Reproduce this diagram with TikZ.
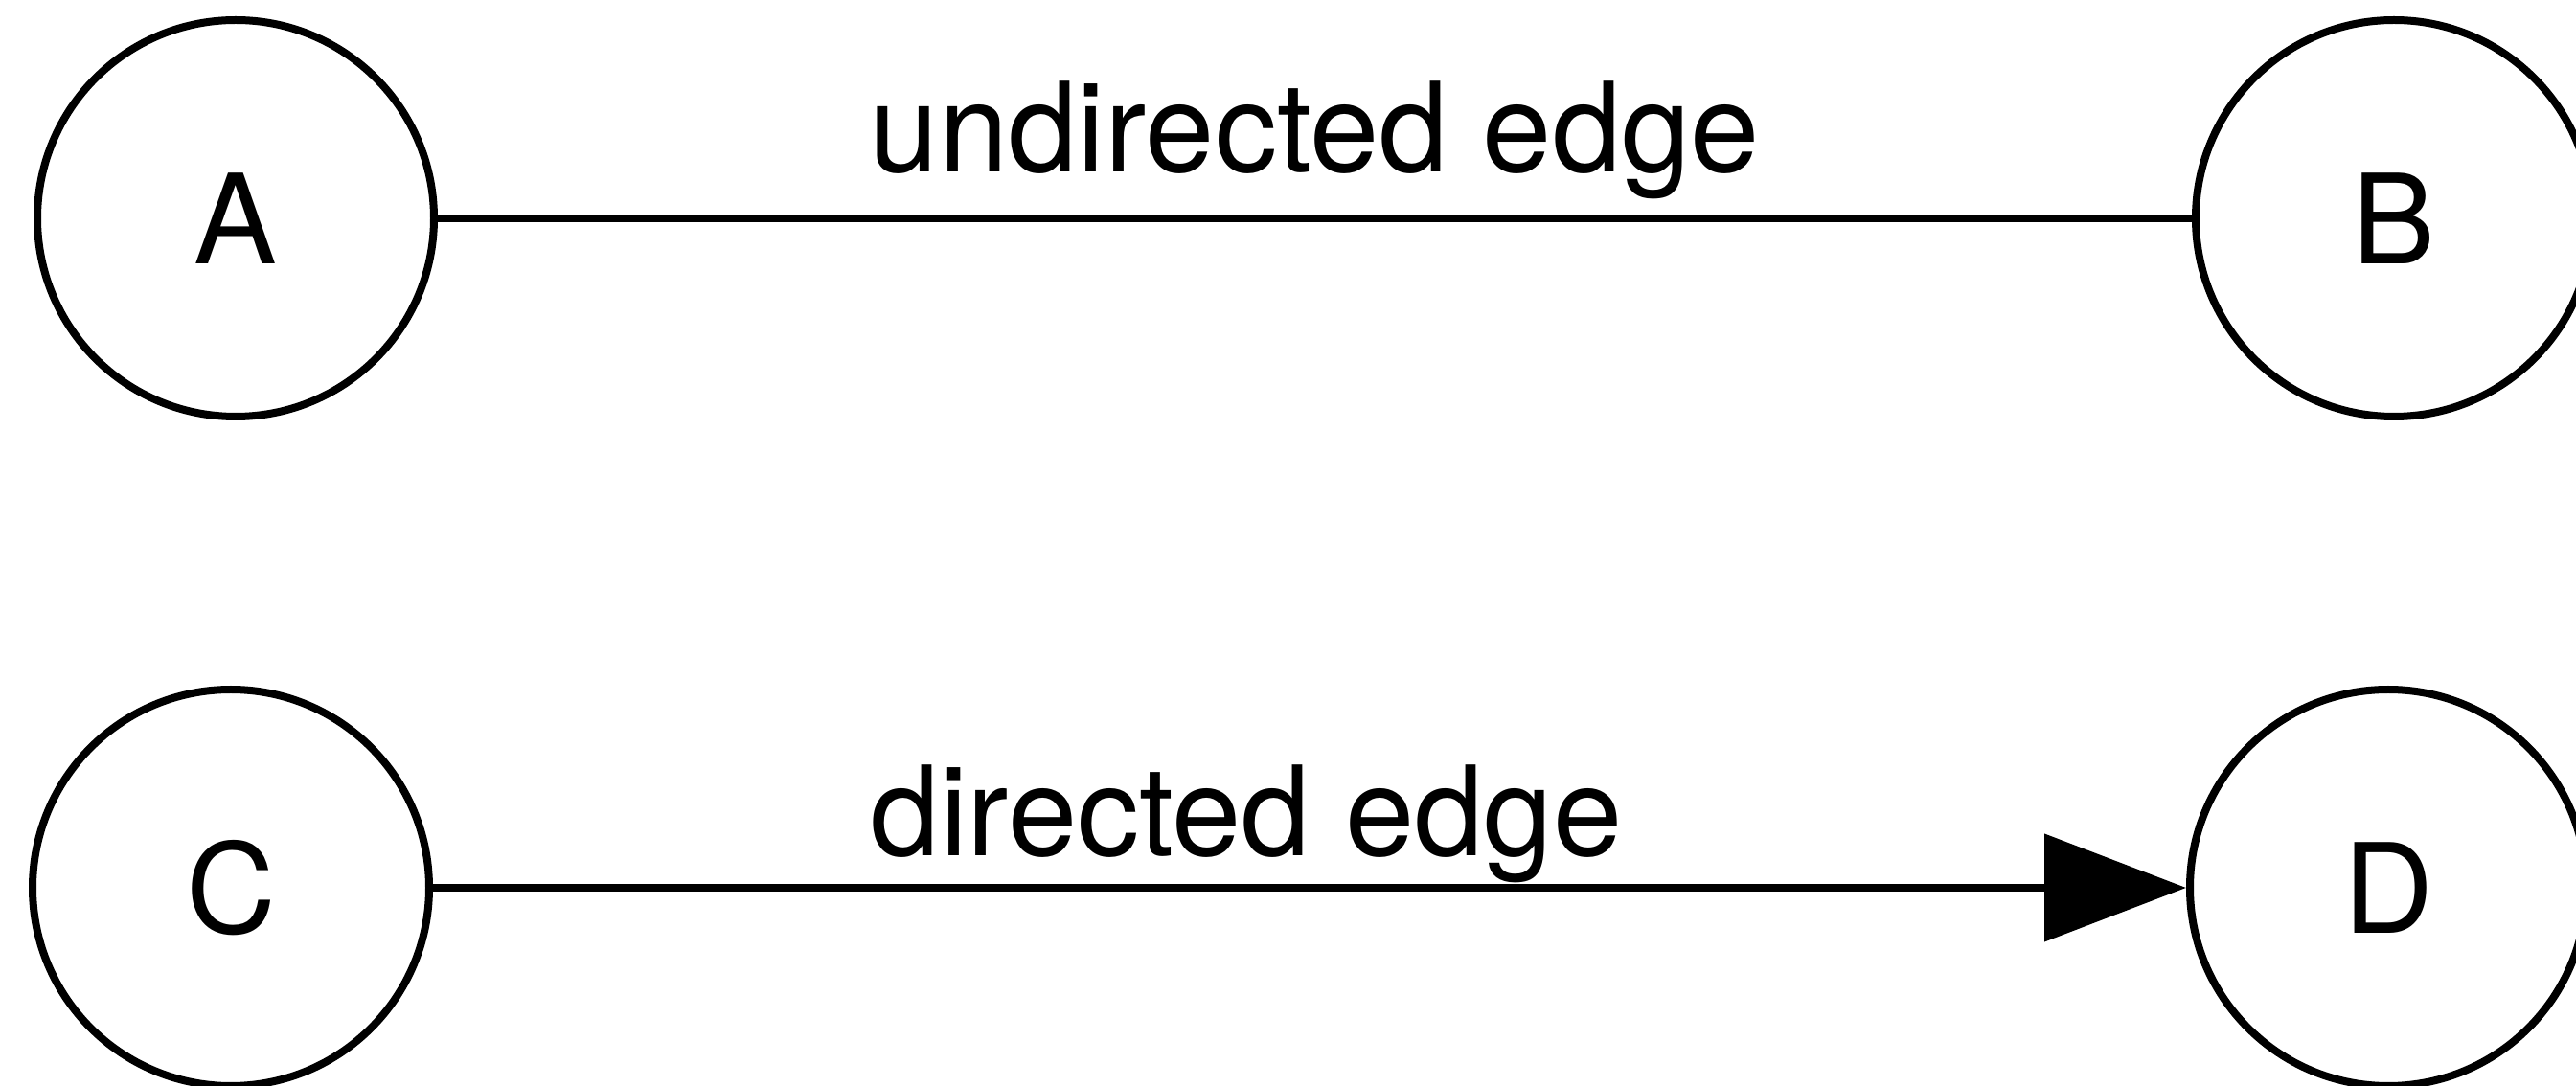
\documentclass[tikz,border=0pt]{standalone}
\usepackage{fontspec}
\setmainfont{TeX Gyre Heros}
\usetikzlibrary{arrows.meta}

\tikzset{
  vertex/.style={circle, draw, line width=0.08cm, minimum size=4.14cm, inner sep=0pt},
  link/.style={line width=0.08cm},
  linklabel/.style={anchor=base, inner sep=0pt}
}

\begin{document}
\begin{tikzpicture}[font=\fontsize{37pt}{44pt}\selectfont]
  \clip (0,0) rectangle (26.89,11.34);
  % nodes
  \node[vertex] (A) at (2.46,9.06) {A};
  \node[vertex] (B) at (24.99,9.06) {B};
  \node[vertex] (C) at (2.41,2.07) {C};
  \node[vertex] (D) at (24.93,2.07) {D};
  % edges
  \draw[link] (A) -- node[linklabel, midway, yshift=0.48cm] {undirected edge} (B);
  \draw[link, -{Triangle[length=1.48cm, width=1.11cm]}] (C) -- node[linklabel, pos=0.464, yshift=0.33cm] {directed edge} (D);
\end{tikzpicture}
\end{document}
